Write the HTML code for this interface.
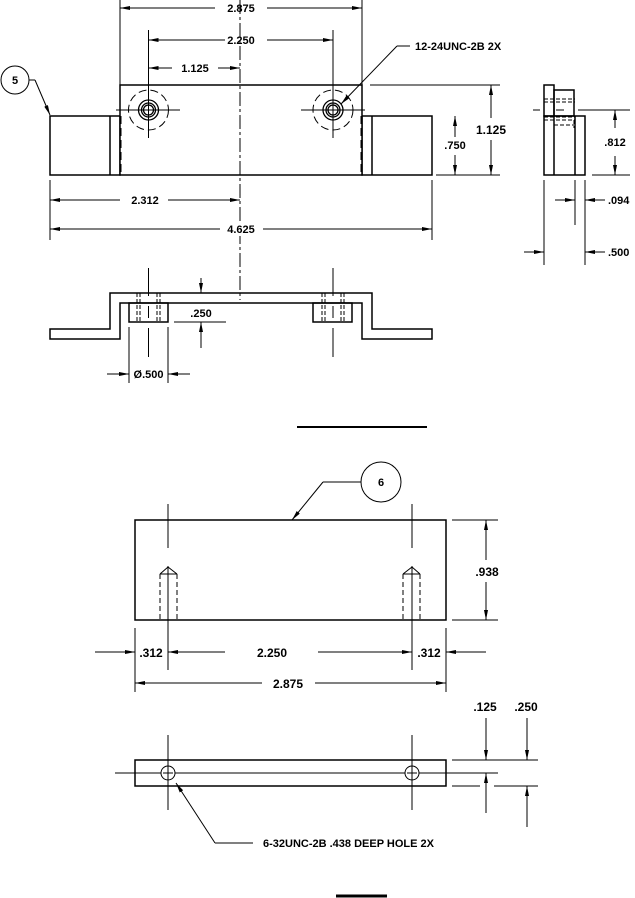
<!DOCTYPE html>
<html><head><meta charset="utf-8"><style>
html,body{margin:0;padding:0;background:#fff}
svg{display:block}
text{font-family:"Liberation Sans",Arial,sans-serif;font-weight:bold;fill:#000}
</style></head><body>
<svg width="635" height="898" viewBox="0 0 635 898" xmlns="http://www.w3.org/2000/svg">
<defs>
<marker id="a" viewBox="0 0 10 4" refX="10" refY="2" markerWidth="10" markerHeight="4" markerUnits="userSpaceOnUse" orient="auto"><path d="M0,0 L10,2 L0,4z" fill="#000"/></marker>
</defs>
<g stroke="#000" fill="none" stroke-width="1">
<g stroke-width="1.5">
<rect x="50" y="116" width="70" height="59"/>
<rect x="362" y="116" width="70" height="59"/>
<rect x="120" y="85" width="242" height="90" fill="#fff"/>
<line x1="110" y1="116" x2="110" y2="175"/>
<line x1="372" y1="116" x2="372" y2="175"/>
</g>
<g stroke-dasharray="8,4">
<line x1="121" y1="116" x2="121" y2="175"/>
<line x1="361" y1="116" x2="361" y2="175"/>
<circle cx="148.5" cy="110" r="20"/>
<circle cx="333" cy="110" r="20"/>
</g>
<g stroke-width="1.3">
<circle cx="148.5" cy="110" r="10"/><circle cx="148.5" cy="110" r="7"/><circle cx="148.5" cy="110" r="5"/>
<circle cx="333" cy="110" r="10"/><circle cx="333" cy="110" r="7"/><circle cx="333" cy="110" r="5"/>
</g>
<line x1="148.5" y1="30" x2="148.5" y2="138"/><line x1="116" y1="110" x2="180" y2="110"/>
<line x1="333" y1="30" x2="333" y2="138"/><line x1="301" y1="110" x2="365" y2="110"/>
<line x1="240" y1="0" x2="240" y2="300" stroke-dasharray="14,3,3,3"/>
<line x1="120" y1="0" x2="120" y2="85"/><line x1="362" y1="0" x2="362" y2="85"/>
<line x1="215" y1="8" x2="120" y2="8" marker-end="url(#a)"/>
<line x1="267" y1="8" x2="362" y2="8" marker-end="url(#a)"/>
<line x1="225" y1="40" x2="148.5" y2="40" marker-end="url(#a)"/>
<line x1="267" y1="40" x2="333" y2="40" marker-end="url(#a)"/>
<line x1="172" y1="68" x2="148.5" y2="68" marker-end="url(#a)"/>
<line x1="218" y1="68" x2="240" y2="68" marker-end="url(#a)"/>
<line x1="370" y1="85" x2="500" y2="85"/><line x1="436" y1="175" x2="500" y2="175"/>
<line x1="491" y1="118" x2="491" y2="85" marker-end="url(#a)"/>
<line x1="491" y1="140" x2="491" y2="175" marker-end="url(#a)"/>
<line x1="455" y1="137" x2="455" y2="116" marker-end="url(#a)"/>
<line x1="455" y1="155" x2="455" y2="175" marker-end="url(#a)"/>
<line x1="50" y1="180" x2="50" y2="240"/><line x1="432" y1="180" x2="432" y2="240"/>
<line x1="120" y1="200" x2="50" y2="200" marker-end="url(#a)"/>
<line x1="168" y1="200" x2="240" y2="200" marker-end="url(#a)"/>
<line x1="220" y1="229" x2="50" y2="229" marker-end="url(#a)"/>
<line x1="263" y1="229" x2="432" y2="229" marker-end="url(#a)"/>
<rect x="222" y="222" width="38" height="14" fill="#fff" stroke="none"/>
<circle cx="15" cy="80" r="14"/>
<polyline points="29,80 35,80" /><line x1="35" y1="80" x2="50" y2="115" marker-end="url(#a)"/>
<polyline points="410,46 397,46"/><line x1="397" y1="46" x2="341" y2="104" marker-end="url(#a)"/>
<g stroke-width="1.5">
<rect x="544" y="116" width="41" height="59"/>
<rect x="544" y="85" width="10" height="31"/>
<rect x="554" y="90" width="20" height="26"/>
<line x1="554" y1="116" x2="554" y2="175"/><line x1="575" y1="116" x2="575" y2="175"/>
</g>
<g stroke-dasharray="4,2">
<line x1="544" y1="99" x2="575" y2="99"/><line x1="544" y1="102" x2="575" y2="102"/>
<line x1="544" y1="117" x2="575" y2="117"/><line x1="544" y1="120" x2="575" y2="120"/>
<line x1="554" y1="125" x2="574" y2="125"/>
<line x1="574" y1="120" x2="574" y2="128"/>
</g>
<line x1="533" y1="110" x2="540" y2="110"/><line x1="556" y1="110" x2="564" y2="110"/><line x1="578" y1="110" x2="630" y2="110"/>
<line x1="592" y1="175" x2="630" y2="175"/>
<line x1="615" y1="128" x2="615" y2="110" marker-end="url(#a)"/>
<line x1="615" y1="156" x2="615" y2="175" marker-end="url(#a)"/>
<line x1="544" y1="180" x2="544" y2="265"/><line x1="575" y1="180" x2="575" y2="225"/><line x1="585" y1="180" x2="585" y2="265"/>
<line x1="555" y1="200" x2="575" y2="200" marker-end="url(#a)"/>
<line x1="605" y1="200" x2="585" y2="200" marker-end="url(#a)"/>
<line x1="524" y1="252" x2="544" y2="252" marker-end="url(#a)"/>
<line x1="605" y1="252" x2="585" y2="252" marker-end="url(#a)"/>
<polygon stroke-width="1.5" points="50,329 110,329 110,293 372,293 372,329 432,329 432,339 362,339 362,303 120,303 120,339 50,339"/>
<rect x="129" y="303" width="39" height="19" stroke-width="1.5"/>
<rect x="313" y="303" width="39" height="19" stroke-width="1.5"/>
<g stroke-dasharray="4,2">
<line x1="137" y1="293" x2="137" y2="322"/><line x1="140" y1="293" x2="140" y2="322"/>
<line x1="157" y1="293" x2="157" y2="322"/><line x1="160" y1="293" x2="160" y2="322"/>
<line x1="322" y1="293" x2="322" y2="322"/><line x1="325" y1="293" x2="325" y2="322"/>
<line x1="341" y1="293" x2="341" y2="322"/><line x1="344" y1="293" x2="344" y2="322"/>
</g>
<line x1="148.5" y1="268" x2="148.5" y2="296"/><line x1="148.5" y1="306" x2="148.5" y2="318"/><line x1="148.5" y1="328" x2="148.5" y2="357"/>
<line x1="333" y1="268" x2="333" y2="296"/><line x1="333" y1="306" x2="333" y2="318"/><line x1="333" y1="328" x2="333" y2="357"/>
<line x1="201" y1="278" x2="201" y2="293" marker-end="url(#a)"/>
<line x1="201" y1="348" x2="201" y2="322" marker-end="url(#a)"/>
<line x1="174" y1="322" x2="226" y2="322"/>
<line x1="129" y1="327" x2="129" y2="383"/><line x1="168" y1="327" x2="168" y2="383"/>
<line x1="107" y1="374" x2="129" y2="374" marker-end="url(#a)"/>
<line x1="190" y1="374" x2="168" y2="374" marker-end="url(#a)"/>
<line x1="297" y1="427" x2="427" y2="427" stroke-width="2"/>
<rect x="135" y="520" width="311" height="100" stroke-width="1.5"/>
<circle cx="381" cy="482" r="20"/>
<line x1="361" y1="482" x2="323" y2="482"/><line x1="323" y1="482" x2="292" y2="520" marker-end="url(#a)"/>
<line x1="168" y1="504" x2="168" y2="548"/><line x1="412" y1="504" x2="412" y2="548"/>
<line x1="168" y1="566" x2="168" y2="670"/><line x1="412" y1="566" x2="412" y2="670"/>
<g stroke-dasharray="5,3">
<line x1="160" y1="574" x2="160" y2="620"/><line x1="177" y1="574" x2="177" y2="620"/>
<line x1="403" y1="574" x2="403" y2="620"/><line x1="420" y1="574" x2="420" y2="620"/>
</g>
<polyline points="160,574 168,567 177,574"/><line x1="160" y1="574" x2="177" y2="574"/>
<polyline points="403,574 412,567 420,574"/><line x1="403" y1="574" x2="420" y2="574"/>
<line x1="452" y1="520" x2="498" y2="520"/><line x1="452" y1="620" x2="498" y2="620"/>
<line x1="486" y1="560" x2="486" y2="520" marker-end="url(#a)"/>
<line x1="486" y1="582" x2="486" y2="620" marker-end="url(#a)"/>
<line x1="135" y1="628" x2="135" y2="692"/><line x1="446" y1="628" x2="446" y2="692"/>
<line x1="95" y1="652" x2="135" y2="652" marker-end="url(#a)"/>
<line x1="225" y1="652" x2="168" y2="652" marker-end="url(#a)"/>
<line x1="318" y1="652" x2="412" y2="652" marker-end="url(#a)"/>
<line x1="486" y1="652" x2="446" y2="652" marker-end="url(#a)"/>
<line x1="262" y1="683" x2="135" y2="683" marker-end="url(#a)"/>
<line x1="315" y1="683" x2="446" y2="683" marker-end="url(#a)"/>
<rect x="135" y="760" width="311" height="26" stroke-width="1.5"/>
<line x1="115" y1="773" x2="498" y2="773"/>
<circle cx="168" cy="773" r="7" fill="#fff"/><circle cx="412" cy="773" r="7" fill="#fff"/>
<line x1="163" y1="773" x2="173" y2="773"/><line x1="407" y1="773" x2="417" y2="773"/>
<line x1="168" y1="735" x2="168" y2="810"/><line x1="412" y1="735" x2="412" y2="810"/>
<line x1="452" y1="760" x2="538" y2="760"/><line x1="452" y1="786" x2="480" y2="786"/><line x1="494" y1="786" x2="538" y2="786"/>
<line x1="486" y1="718" x2="486" y2="760" marker-end="url(#a)"/>
<line x1="486" y1="813" x2="486" y2="773" marker-end="url(#a)"/>
<line x1="527" y1="718" x2="527" y2="760" marker-end="url(#a)"/>
<line x1="527" y1="827" x2="527" y2="786" marker-end="url(#a)"/>
<line x1="215" y1="843" x2="176" y2="783" marker-end="url(#a)"/>
<line x1="215" y1="843" x2="253" y2="843"/>
<line x1="336" y1="896" x2="387" y2="896" stroke-width="3"/>
</g>
<g font-size="11">
<text x="241" y="12" text-anchor="middle">2.875</text>
<text x="241" y="44" text-anchor="middle">2.250</text>
<text x="195" y="72" text-anchor="middle">1.125</text>
<text x="415" y="50">12-24UNC-2B 2X</text>
<text x="15" y="84" text-anchor="middle">5</text>
<text x="491" y="134" text-anchor="middle" font-size="12">1.125</text>
<text x="455" y="149" text-anchor="middle">.750</text>
<text x="615" y="146" text-anchor="middle">.812</text>
<text x="145" y="204" text-anchor="middle">2.312</text>
<text x="241" y="233" text-anchor="middle">4.625</text>
<text x="608" y="204">.094</text>
<text x="608" y="256">.500</text>
<text x="201" y="317" text-anchor="middle">.250</text>
<text x="148.5" y="378" text-anchor="middle">Ø.500</text>
</g>
<g font-size="12">
<text x="381" y="486" text-anchor="middle" font-size="11">6</text>
<text x="487" y="576" text-anchor="middle">.938</text>
<text x="151" y="657" text-anchor="middle">.312</text>
<text x="272" y="657" text-anchor="middle">2.250</text>
<text x="429" y="657" text-anchor="middle">.312</text>
<text x="288" y="688" text-anchor="middle">2.875</text>
<text x="485" y="711" text-anchor="middle">.125</text>
<text x="526" y="711" text-anchor="middle">.250</text>
<text x="263" y="847" font-size="11">6-32UNC-2B .438 DEEP HOLE 2X</text>
</g>
</svg>
</body></html>
